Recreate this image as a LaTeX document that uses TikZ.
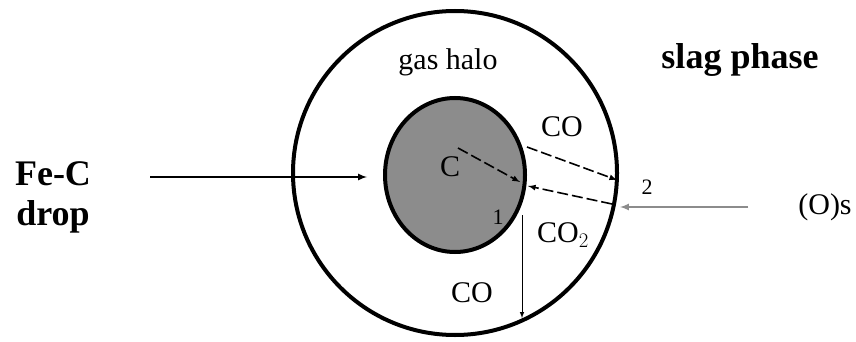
\documentclass[tikz,border=0pt]{standalone}
\usepackage{fontspec}
\setmainfont{Liberation Serif}
\usepackage{tikz}
\usetikzlibrary{arrows,shapes.geometric,positioning}
\definecolor{dropgray}{rgb}{0.55,0.55,0.55}
\tikzset{
	boundary/.style={draw, line width=4pt},
	halo/.style={boundary, circle, minimum size=324pt, inner sep=0pt},
	droplet/.style={boundary, ellipse, fill=dropgray, minimum width=140pt, minimum height=154pt, inner sep=0pt},
	bigtext/.style={font=\fontsize{36}{40}\selectfont\bfseries},
	label/.style={font=\fontsize{30}{34}\selectfont, inner sep=0pt},
	small/.style={font=\fontsize{22}{24}\selectfont, inner sep=0pt},
	feed_arrow/.style={-latex, line width=2pt},
	flux_arrow/.style={-latex, line width=1.6pt, dash pattern=on 11pt off 4pt},
	thin_arrow/.style={-latex, line width=1pt}
}
\begin{document}
\begin{tikzpicture}[x=1pt, y=-1pt]
				\useasboundingbox (0,0) rectangle (856,342);
				\node[halo] (halo) at (455,173) {};
				\node[droplet] (drop) at (455,175) {};
				\node[label] (gashalo) at (448,62) {gas halo};
				\node[bigtext] (slag) at (740,60) {slag phase};
				\node[bigtext, align=center, inner sep=0pt] (fec) at (53,197) {Fe-C\\drop};
				\node[label] (oxy) at (825,207) {(O)s};
				\node[label] (carbon) at (450,167) {C};
				\node[label] (coout) at (562,127) {CO};
				\node[label] (coin) at (563,235) {CO$_2$};
				\node[label] (cobot) at (472,293) {CO};
				\node[small] (one) at (498,217) {1};
				\node[small] (two) at (647,187) {2};
				\coordinate (fecstart) at (150,177);
				\coordinate (fecend) at (367,177);
				\coordinate (oxstart) at (748,207);
				\coordinate (oxend) at (620,207);
				\coordinate (cstart) at (458,148);
				\coordinate (cend) at (520,182);
				\coordinate (costart) at (527,147);
				\coordinate (coend) at (617,180);
				\coordinate (cotwostart) at (612,204);
				\coordinate (cotwoend) at (528,186);
				\coordinate (bstart) at (522,215);
				\coordinate (bend) at (522,318);
				\draw[feed_arrow] (fecstart) -- (fecend);
				\draw[feed_arrow, draw=black!45, fill=black!45] (oxstart) -- (oxend);
				\draw[flux_arrow] (cstart) -- (cend);
				\draw[flux_arrow] (costart) -- (coend);
				\draw[flux_arrow] (cotwostart) -- (cotwoend);
				\draw[thin_arrow] (bstart) -- (bend);
			\end{tikzpicture}
\end{document}
